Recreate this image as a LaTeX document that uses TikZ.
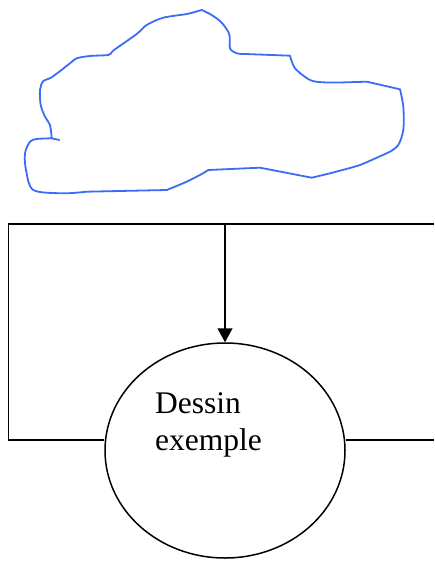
\documentclass[tikz,border=0pt]{standalone}
\usepackage{fontspec}
\setmainfont{Liberation Serif}
\usetikzlibrary{shapes.geometric,arrows.meta}
\definecolor{cloudblue}{RGB}{58,108,245}
\tikzset{
  frameline/.style={line width=1.5pt, black},
  bubble/.style={draw, ellipse, line width=1.5pt, inner sep=0pt,
                 minimum width=240pt, minimum height=215pt},
  caption/.style={anchor=base west, inner sep=0pt,
                  font=\fontsize{31.5}{37}\selectfont},
  cloudline/.style={cloudblue, line width=1.8pt, line join=round, line cap=round}
}
\begin{document}
\begin{tikzpicture}[x=1pt, y=-1pt]
  \useasboundingbox (0,0) rectangle (434,561);

  % hand-drawn cloud outline, built from smooth runs and straight strokes
  \draw[cloudline] (59.3,140) -- (51.7,138.3)
    -- plot[smooth, tension=0.5] coordinates {
      (51.7,138.3) (50,125) (45,116.7) (40.7,105) (40,90) (43.3,81)
      (51.7,77.3) (70,63.3) (76.7,58.3) (90,56) (108.3,55) (111.7,52.3)}
    -- plot[smooth, tension=0.5] coordinates {
      (111.7,52.3) (115,49.3) (136.7,34) (146.7,25) (163.3,17.7)
      (186.7,14) (201.7,10)}
    -- plot[smooth, tension=0.5] coordinates {
      (201.7,10) (211.7,15) (221.7,22.7) (229.3,34.3) (230,48.3)
      (236.7,53.3) (245,54)}
    -- (290,55.7)
    -- plot[smooth, tension=0.5] coordinates {
      (290,55.7) (295,68.3) (310,80) (323,82.3) (340,82.5)}
    -- (366.7,81.7) -- (400,89.3)
    -- plot[smooth, tension=0.5] coordinates {
      (400,89.3) (403.3,106.7) (403.3,130) (398.3,145) (390,151.7)}
    -- plot[smooth, tension=0.3] coordinates {
      (390,151.7) (360,165) (330,173.3) (311.7,177.7)}
    -- (260,167.7) -- (208.3,170)
    -- plot[smooth, tension=0.5] coordinates {
      (208.3,170) (201.7,174) (186.7,181.7) (166.7,190)}
    -- (86.7,191.7)
    -- plot[smooth, tension=0.5] coordinates {
      (86.7,191.7) (63.3,193.3) (33.3,190) (26,170) (25,153.3)
      (30,141.7) (36.7,139) (51.7,138.3)};

  % frame corners
  \coordinate (tl) at (8.5,224);
  \coordinate (tr) at (434,224);
  \coordinate (tm) at (225,224);
  \coordinate (bl) at (8.5,440);
  \coordinate (br) at (434,440);

  \node[bubble] (e) at (225,450.5) {};
  \node[caption] (l1) at (155,413) {Dessin};
  \node[caption] (l2) at (155,450) {exemple};

  \draw[frameline] (e.west |- bl) -- (bl) -- (tl) -- (tr);
  \draw[frameline] (e.east |- br) -- (br);
  \draw[frameline, -{Triangle[width=15pt, length=14pt]}] (tm) -- (e.north);
\end{tikzpicture}
\end{document}
